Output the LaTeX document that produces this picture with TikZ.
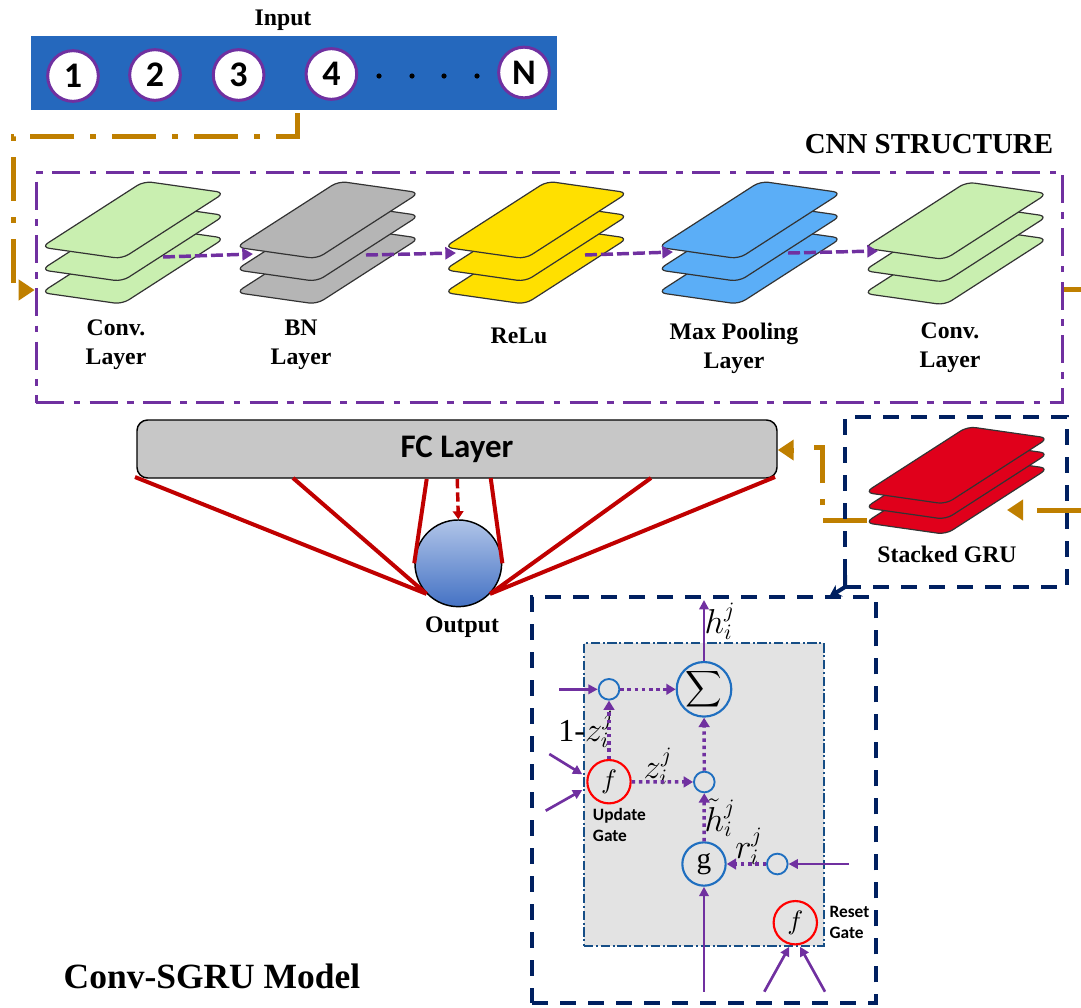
\documentclass[tikz,border=0pt]{standalone}
\usepackage{fontspec}
\setmainfont{Liberation Serif}
\newfontfamily\labelsans{Carlito}
\usetikzlibrary{arrows.meta}
\definecolor{feedorange}{HTML}{BF7F00}
\definecolor{flowpurple}{HTML}{7030A0}
\definecolor{framenavy}{HTML}{002060}
\definecolor{linkred}{HTML}{C00000}
\definecolor{barblue}{HTML}{2568BD}
\definecolor{ringblue}{HTML}{1F6FC0}
\definecolor{sheetgreen}{HTML}{C9EFB0}
\definecolor{sheetgray}{HTML}{B5B5B5}
\definecolor{sheetyellow}{HTML}{FFE000}
\definecolor{sheetblue}{HTML}{5BAEF7}
\definecolor{sheetred}{HTML}{E0001B}
\definecolor{spheretop}{HTML}{B0C4E8}
\definecolor{spherelow}{HTML}{4472C4}
\tikzstyle{every node}=[font=\bfseries\fontsize{17.8}{22}\selectfont,align=center]
\tikzstyle{sheet}=[draw=black!80,line width=0.9pt,rounded corners=6pt]
\tikzstyle{inputring}=[circle,draw=flowpurple,fill=white,line width=2.25pt,minimum size=38pt,inner sep=0pt,font=\labelsans\bfseries\fontsize{27}{27}\selectfont]
\tikzstyle{feedline}=[feedorange,line width=3.75pt,dash pattern=on 33pt off 12pt on 4.5pt off 12pt]
\tikzstyle{feedtip}=[feedorange,line width=3.75pt,-{Triangle[length=12pt,width=15pt]}]
\tikzstyle{cnnlink}=[flowpurple,line width=2.6pt,dash pattern=on 9pt off 3pt,-{Triangle[length=8pt,width=9pt]}]
\tikzstyle{dashframe}=[draw=framenavy,line width=3pt,dash pattern=on 12pt off 9pt,inner sep=0pt]
\tikzstyle{redlink}=[linkred,line width=3pt]
\tikzstyle{bigring}=[circle,draw=ringblue,line width=1.6pt,minimum size=32.5pt,inner sep=0pt,font=\mdseries]
\tikzstyle{smallring}=[circle,draw=ringblue,line width=1.4pt,minimum size=15.5pt,inner sep=0pt]
\tikzstyle{gatering}=[bigring,draw=red]
\tikzstyle{solidflow}=[flowpurple,line width=2pt,-{Triangle[length=7pt,width=7pt]}]
\tikzstyle{dotflow}=[flowpurple,line width=2.6pt,dash pattern=on 2.6pt off 2.8pt,-{Triangle[length=7pt,width=8pt]}]
\tikzstyle{mathlabel}=[font=\mdseries\fontsize{16}{16}\selectfont,inner sep=0pt]
\tikzstyle{gatelabel}=[font=\labelsans\bfseries\fontsize{13}{16}\selectfont,align=left,inner sep=0pt]
% one sheet: x, y of left tip, fill
\newcommand{\layersheet}[3]{\draw[sheet,fill=#3,shift={(#1,#2)}]
    (0,0)--(102.6,-66)--(183.3,-54.5)--(80.8,11.5)--cycle;}
\newcommand{\layerstack}[3]{\layersheet{#1}{#2+45.4}{#3}\layersheet{#1}{#2+22.7}{#3}\layersheet{#1}{#2}{#3}}
\begin{document}
\begin{tikzpicture}[x=0.75pt,y=-0.75pt]
\useasboundingbox (0,0) rectangle (1081,1007);

% input row
\node (inputtitle) at (283,20) {Input};
\node[fill=barblue,minimum width=394.5pt,minimum height=55pt,inner sep=0pt] (inputbar) at (294,73) {};
\node[inputring] (in1) at (73,76) {1};
\node[inputring] (in2) at (155,75) {2};
\node[inputring] (in3) at (238.6,75) {3};
\node[inputring] (in4) at (331.4,74) {4};
\node[inputring] (inN) at (524,72.5) {N};
\fill (379,76) circle (2.6) (412,76) circle (2.6) (444,76) circle (2.6) (477,76) circle (2.6);

% CNN block
\node (cnntitle) at (929,144) {\fontsize{21.7}{22}\selectfont CNN STRUCTURE};
\node[draw=flowpurple,line width=2.25pt,dash pattern=on 21pt off 7pt on 5pt off 7pt,minimum width=770pt,minimum height=173pt,inner sep=0pt] (cnnframe) at (549.5,287.5) {};
\coordinate (inputdrop) at (297,113);
\coordinate (feedbend) at (13,290);
\coordinate (feedstart) at (20,290);
\draw[feedline] (inputdrop)--(297,136)--(13,136)--(feedbend);
\draw[feedtip] (feedstart)--(cnnframe.west|-feedstart);

\layerstack{41.3}{247.2}{sheetgreen}
\layerstack{236}{247.2}{sheetgray}
\layerstack{444.5}{247.2}{sheetyellow}
\layerstack{658}{247.2}{sheetblue}
\layerstack{864}{248}{sheetgreen}
\coordinate (convAout) at (163,257);
\coordinate (bnin) at (253,254);
\coordinate (bnout) at (366,255);
\coordinate (reluin) at (456,253);
\coordinate (reluout) at (585,255);
\coordinate (poolin) at (673,252);
\coordinate (poolout) at (788,253);
\coordinate (convBin) at (878,251);
\draw[cnnlink] (convAout)--(bnin);
\draw[cnnlink] (bnout)--(reluin);
\draw[cnnlink] (reluout)--(poolin);
\draw[cnnlink] (poolout)--(convBin);
\node (convAlabel) at (116,344.5) {Conv.\\Layer};
\node (bnlabel) at (301,344.5) {BN\\Layer};
\node (relulabel) at (519,336) {ReLu};
\node (poollabel) at (734,348) {Max Pooling\\Layer};
\node (convBlabel) at (950,348) {Conv.\\Layer};

% FC layer and output
\coordinate (cnnexit) at (1081,289);
\draw[feedorange,line width=3.75pt] (cnnframe.east|-cnnexit)--(cnnexit);
\node[draw=black,fill=black!22,line width=1.1pt,rounded corners=8pt,minimum width=480pt,minimum height=43.5pt,inner sep=0pt,font=\labelsans\bfseries\fontsize{24.7}{25}\selectfont] (fclayer) at (457,449) {FC Layer};
\node[circle,draw=black,line width=1.1pt,top color=spheretop,bottom color=spherelow,minimum size=65pt,inner sep=0pt] (output) at (458.3,563.3) {};
\node (outputlabel) at (462,627) {Output};
\coordinate (fcA) at (135,477);
\coordinate (fcB) at (293,478);
\coordinate (fcC) at (426.7,479);
\coordinate (fcD) at (457.3,479);
\coordinate (fcE) at (490.7,478);
\coordinate (fcF) at (651,478);
\coordinate (fcG) at (775,477);
\draw[redlink] (fcA)--(output.224) (fcB)--(output.224) (fcC)--(output.180)
    (fcE)--(output.0) (fcF)--(output.-44) (fcG)--(output.-44);
\draw[redlink,line width=2.6pt,dash pattern=on 7pt off 3pt,-{Triangle[length=6pt,width=8pt]}] (fcD)--(output.north);

% stacked GRU
\coordinate (gruin) at (1081,510);
\coordinate (grutipstart) at (1023,510);
\coordinate (grutip) at (1007,510);
\coordinate (gruout) at (867,520);
\coordinate (fctipstart) at (794,450);
\draw[feedorange,line width=3.75pt,dash pattern=on 33pt off 12pt] (gruin)--(1035,510);
\draw[feedtip] (grutipstart)--(grutip);
\draw[feedline,dash pattern=on 33pt off 12pt on 4.5pt off 12pt] (gruout)--(822,520)--(822,447)--(812,447);
\draw[feedtip] (fctipstart)--(fclayer.east|-fctipstart);
\layersheet{865}{522.8}{sheetred}
\layersheet{865}{507.8}{sheetred}
\layersheet{865}{492.5}{sheetred}
\node (grulabel) at (947,554) {Stacked GRU};
\node[dashframe,minimum width=166pt,minimum height=128pt] (gruframe) at (956,502) {};

% GRU cell
\node[dashframe,minimum width=257.5pt,minimum height=304.5pt] (cellframe) at (704,800) {};
\coordinate (framedrop) at (845,575);
\draw[framenavy,line width=3pt,-{Stealth[length=9pt,width=10pt]}] (framedrop)--(845,587)--(829,597);
\node[draw=ringblue!70!black,fill=black!11,line width=1.1pt,dash pattern=on 7pt off 2pt on 1.5pt off 2pt,minimum width=180pt,minimum height=227pt,inner sep=0pt] (cellbox) at (704,794.5) {};
\node[bigring] (sumring) at (704,689.3) {\scalebox{1.9}{$\displaystyle\sum$}};
\node[smallring] (topring) at (609,689.3) {};
\node[gatering] (updategate) at (609,781.7) {\scalebox{2}{$f$}};
\node[smallring] (midring) at (704.3,782) {};
\node[bigring] (gring) at (704,864) {\fontsize{22}{22}\selectfont g};
\node[smallring] (rring) at (777.3,864) {};
\node[gatering] (resetgate) at (795.3,922.7) {\scalebox{2}{$f$}};
\node[mathlabel] (hlabel) at (720,621) {\scalebox{1.5}{$h_i^j$}};
\node[mathlabel] (onelabel) at (586,729) {\scalebox{1.5}{1-$z_i^j$}};
\node[mathlabel] (zlabel) at (658,766) {\scalebox{1.5}{$z_i^j$}};
\node[mathlabel] (htildelabel) at (720,818) {\scalebox{1.5}{$\tilde{h}_i^j$}};
\node[mathlabel] (rlabel) at (749,846) {\scalebox{1.5}{$r_i^j$}};
\node[gatelabel,anchor=north west] (updatelabel) at (592.7,808) {Update\\Gate};
\node[gatelabel,anchor=north west] (resetlabel) at (829.3,906) {Reset\\Gate};
\coordinate (hout) at (704,600);
\coordinate (topin) at (559.3,689.3);
\coordinate (updateinA) at (549.3,754);
\coordinate (updatetipA) at (582.3,774.3);
\coordinate (updateinB) at (545.7,810.7);
\coordinate (updatetipB) at (582.3,790);
\coordinate (rin) at (849,864);
\coordinate (gin) at (704,991.7);
\coordinate (resetinA) at (764.3,991.7);
\coordinate (resettipA) at (789.3,946.7);
\coordinate (resetinB) at (825,991.7);
\coordinate (resettipB) at (800,946.7);
\draw[solidflow] (sumring)--(hout);
\draw[solidflow] (topin)--(topring);
\draw[solidflow] (updateinA)--(updatetipA);
\draw[solidflow] (updateinB)--(updatetipB);
\draw[solidflow] (rin)--(rring);
\draw[solidflow] (gin)--(gring);
\draw[solidflow] (resetinA)--(resettipA);
\draw[solidflow] (resetinB)--(resettipB);
\draw[dotflow] (topring)--(sumring);
\draw[dotflow] (updategate)--(topring);
\draw[dotflow] (updategate)--(midring);
\draw[dotflow] (midring)--(sumring);
\draw[dotflow] (gring)--(midring);
\draw[dotflow] (rring)--(gring);

\node (modeltitle) at (212,976) {\fontsize{26.6}{27}\selectfont Conv-SGRU Model};
\end{tikzpicture}
\end{document}
